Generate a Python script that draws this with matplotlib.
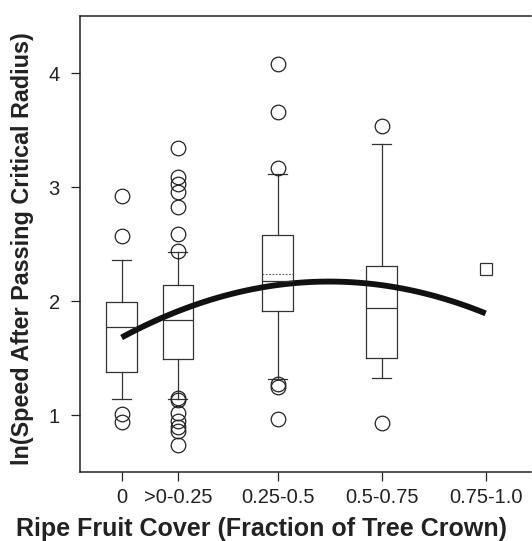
import numpy as np
import matplotlib.pyplot as plt

plt.rcParams['font.family'] = ['Liberation Sans', 'DejaVu Sans']

categories = ['0', '>0-0.25', '0.25-0.5', '0.5-0.75', '0.75-1.0']
positions = [0.0, 0.135, 0.375, 0.625, 0.875]

# box summaries (ln speed)
q1 = [1.38, 1.494, 1.913, 1.503]
med = [1.775, 1.837, 2.176, 1.937]
q3 = [1.995, 2.139, 2.580, 2.308]
whislo = [1.14, 1.14, 1.316, 1.328]
whishi = [2.364, 2.434, 3.116, 3.379]
mean_025 = 2.24
fliers = [
    [2.925, 2.574, 1.015, 0.94],
    [3.34, 3.09, 3.03, 2.96, 2.83, 2.59, 2.44,
     1.15, 1.13, 1.02, 0.95, 0.90, 0.86, 0.74],
    [4.082, 3.658, 3.171, 1.27, 1.25, 0.965],
    [3.535, 0.936],
]
# single observation in the last class
last_x = 0.875
last_y = 2.279

# quadratic fit y = a + b*x + c*x^2
fit_a, fit_b, fit_c = 1.682, 1.965, -1.97

stats = []
for i in range(4):
    stats.append(dict(med=med[i], q1=q1[i], q3=q3[i], whislo=whislo[i],
                      whishi=whishi[i], fliers=fliers[i], mean=mean_025))

fig = plt.figure(figsize=(5.32, 5.41), dpi=100)
ax = fig.add_axes([0.1504, 0.127, 0.8485, 0.8434])

lc = '#333333'
boxprops = dict(color=lc, linewidth=0.9)
flierprops = dict(marker='o', markerfacecolor='none', markeredgecolor='#222222',
                  markersize=10.5, markeredgewidth=0.9)
ax.bxp(stats[:2] + [stats[3]], positions=[positions[0], positions[1], positions[3]],
       widths=0.073, capwidths=0.045, boxprops=boxprops,
       whiskerprops=dict(color=lc, linewidth=0.9), capprops=dict(color=lc, linewidth=0.9),
       medianprops=dict(color=lc, linewidth=0.9), flierprops=flierprops,
       manage_ticks=False)
ax.bxp([stats[2]], positions=[positions[2]], widths=0.073, capwidths=0.045,
       boxprops=boxprops, whiskerprops=dict(color=lc, linewidth=0.9),
       capprops=dict(color=lc, linewidth=0.9),
       medianprops=dict(color=lc, linewidth=0.9), flierprops=flierprops,
       showmeans=True, meanline=True,
       meanprops=dict(color='#555555', linestyle=(0, (1.5, 1.5)), linewidth=0.8),
       manage_ticks=False)

ax.plot([last_x], [last_y], marker='s', markerfacecolor='none',
        markeredgecolor='#333333', markersize=8.4, markeredgewidth=0.9, linestyle='none')

xs = np.linspace(0, 0.875, 100)
ax.plot(xs, fit_a + fit_b * xs + fit_c * xs ** 2, color='#111111', linewidth=4.2,
        solid_capstyle='butt')

ax.set_xlim(-0.1, 0.985)
ax.set_ylim(0.5, 4.5)
ax.set_xticks(positions)
ax.set_xticklabels(categories)
ax.set_yticks([1, 2, 3, 4])
ax.tick_params(axis='both', length=6.5, width=0.9, color='#222222',
               labelsize=14.5, labelcolor='#222222')
ax.tick_params(axis='x', pad=5)
ax.tick_params(axis='y', pad=8)
for s in ['left', 'bottom', 'top']:
    ax.spines[s].set_linewidth(1.1)
    ax.spines[s].set_color('#222222')
ax.spines['right'].set_visible(False)

xl = ax.set_xlabel('Ripe Fruit Cover (Fraction of Tree Crown)', fontsize=18,
                   fontweight='bold', color='#222222')
ax.xaxis.set_label_coords(-0.142, -0.139)
xl.set_ha('left')
xl.set_va('baseline')

ax.set_ylabel('ln(Speed After Passing Critical Radius)', fontsize=16.8,
              fontweight='bold', color='#222222')
ax.yaxis.set_label_coords(-0.102, 0.49)

fig.savefig('out.png', dpi=100)
